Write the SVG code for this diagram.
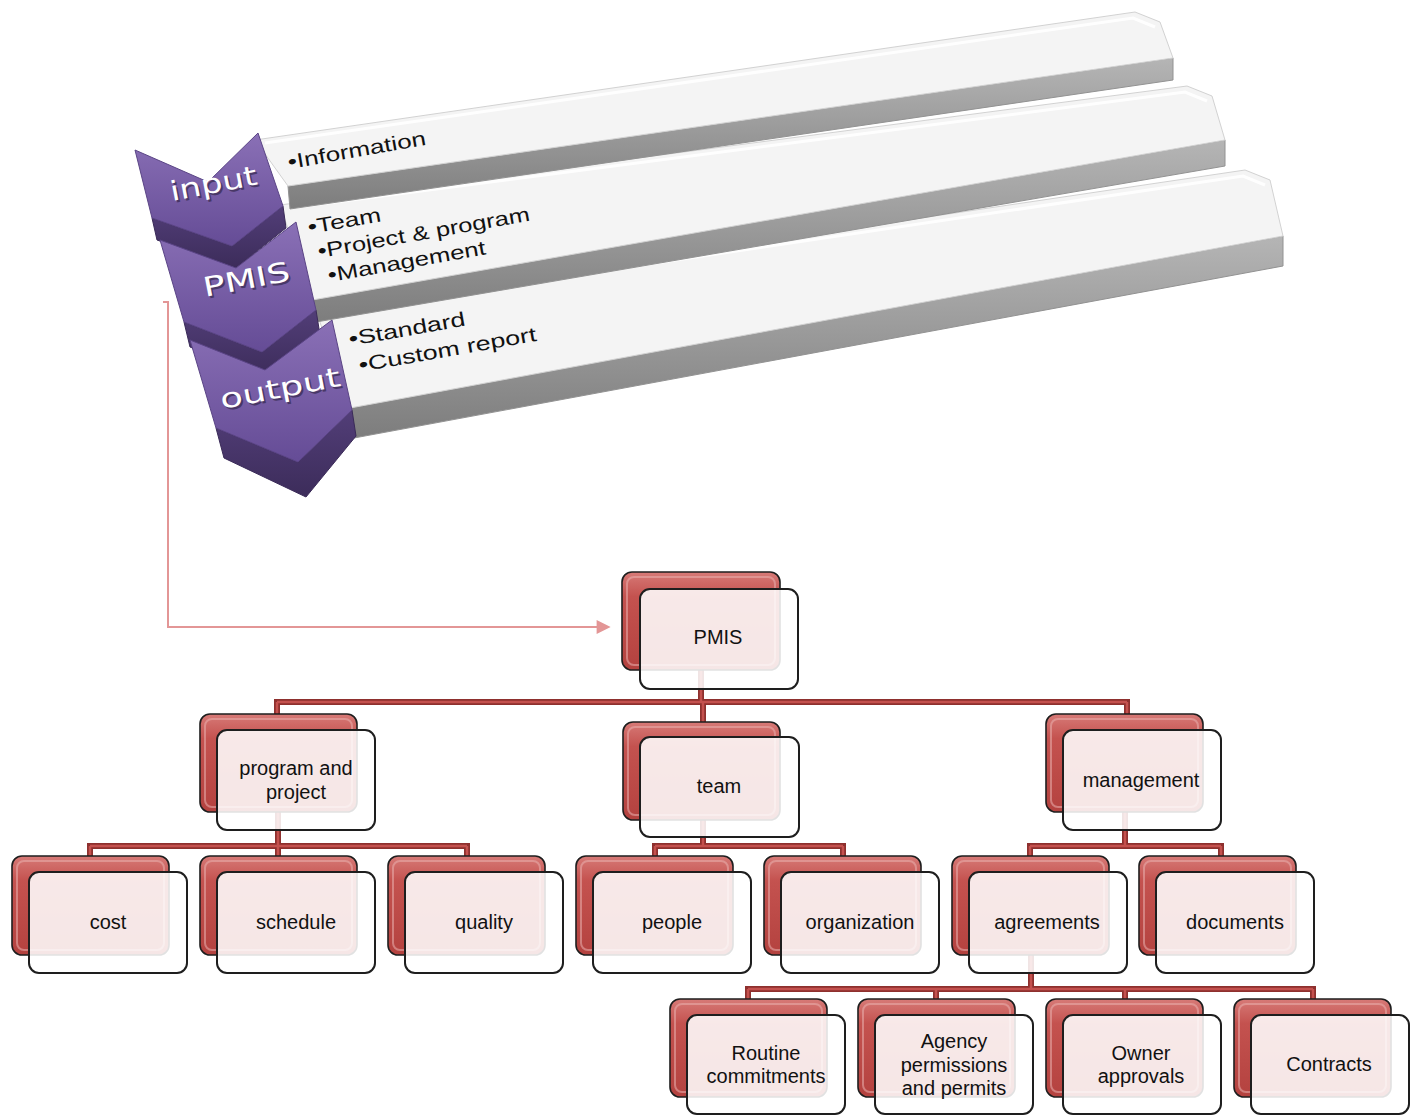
<svg xmlns="http://www.w3.org/2000/svg" width="1419" height="1116" viewBox="0 0 1419 1116">
<defs>
<linearGradient id="redGrad" x1="0" y1="0" x2="0" y2="1">
<stop offset="0" stop-color="#d77a77"/><stop offset="0.25" stop-color="#c4524f"/><stop offset="1" stop-color="#b4423f"/>
</linearGradient>
<linearGradient id="chevGrad" x1="0" y1="0" x2="0" y2="1">
<stop offset="0" stop-color="#8a70b6"/><stop offset="1" stop-color="#654c96"/>
</linearGradient>
<linearGradient id="chevDark" x1="0" y1="0" x2="0" y2="1">
<stop offset="0" stop-color="#523e78"/><stop offset="1" stop-color="#3c2c5a"/>
</linearGradient>
<linearGradient id="barFront" x1="0" y1="0" x2="0" y2="1">
<stop offset="0" stop-color="#b5b5b5"/><stop offset="1" stop-color="#7d7d7d"/>
</linearGradient>
<marker id="arr" viewBox="0 0 10 10" refX="1" refY="5" markerWidth="15" markerHeight="14" markerUnits="userSpaceOnUse" orient="auto">
<path d="M0,0 L10,5 L0,10 z" fill="#e39696"/>
</marker>
<style>
.back{fill:url(#redGrad);stroke:#1e1e1e;stroke-width:1.6}
.bevel{fill:none;stroke:#eab0ae;stroke-width:2;opacity:.55}
.front{fill:#ffffff;fill-opacity:.87;stroke:#1e1e1e;stroke-width:2}
.lbl{font-family:"Liberation Sans",Arial,sans-serif;font-size:20px;fill:#111;text-anchor:middle}
.c-out{fill:none;stroke:#8e302e;stroke-width:6;stroke-linejoin:miter}
.c-in{fill:none;stroke:#c4514e;stroke-width:2.5;stroke-linejoin:miter}
.bartop{fill:#f4f4f4;stroke:#d2d2d2;stroke-width:1;stroke-linejoin:round}
.barfront{fill:url(#barFront);stroke:#929292;stroke-width:1;stroke-linejoin:round}
.hl{fill:none;stroke:#ffffff;stroke-width:3;opacity:.9}
.btxt{font-family:"Liberation Sans",Arial,sans-serif;font-size:20px;fill:#111}
.chev{fill:url(#chevGrad);stroke:#5a4485;stroke-width:1;stroke-linejoin:round}
.chevd{fill:url(#chevDark);stroke:#3a2a58;stroke-width:1;stroke-linejoin:round}
.ctxt{font-family:"DejaVu Sans",Verdana,sans-serif;font-size:27px;fill:#ffffff}
.cshd{font-family:"DejaVu Sans",Verdana,sans-serif;font-size:27px;fill:#2a1f3d;opacity:.6}
</style>
</defs>
<rect width="1419" height="1116" fill="#ffffff"/>

<!-- 3D bars -->
<g id="bar-output">
<polygon class="barfront" points="350,408 1283,236 1283,266 354,438"/>
<polygon class="bartop" points="315,308 1245,170 1270,180 1283,236 350,408"/>
<polyline class="hl" points="325,312 1243,176 1265,185"/>
<text class="btxt" transform="translate(350,346) rotate(-10)" textLength="118" lengthAdjust="spacingAndGlyphs">•Standard</text>
<text class="btxt" transform="translate(360,372) rotate(-10)" textLength="180" lengthAdjust="spacingAndGlyphs">•Custom report</text>
</g>
<g id="bar-pmis">
<polygon class="barfront" points="312,300 1225,140 1225,166 316,322"/>
<polygon class="bartop" points="280,205 1187,86 1212,96 1225,140 312,300"/>
<polyline class="hl" points="290,208 1185,92 1207,101"/>
<text class="btxt" transform="translate(309,234) rotate(-10)" textLength="74" lengthAdjust="spacingAndGlyphs">•Team</text>
<text class="btxt" transform="translate(319,258) rotate(-10)" textLength="215" lengthAdjust="spacingAndGlyphs">•Project &amp; program</text>
<text class="btxt" transform="translate(329,282) rotate(-10)" textLength="160" lengthAdjust="spacingAndGlyphs">•Management</text>
</g>
<g id="bar-input">
<polygon class="barfront" points="288,186 1173,58 1173,80 290,209"/>
<polygon class="bartop" points="255,140 1135,12 1160,22 1173,58 288,186"/>
<polyline class="hl" points="265,143 1133,18 1155,27"/>
<text class="btxt" transform="translate(289,169) rotate(-10)" textLength="140" lengthAdjust="spacingAndGlyphs">•Information</text>
</g>

<!-- chevrons -->
<g id="chev-input">
<polygon class="chevd" points="152,218 232,246 283,206 286,228 236,268 157,240"/>
<polygon class="chev" points="135,150 208,182 258,133 283,206 232,246 152,218"/>
<text class="cshd" transform="translate(174,203) rotate(-11)" textLength="88" lengthAdjust="spacingAndGlyphs">input</text>
<text class="ctxt" transform="translate(172,201) rotate(-11)" textLength="88" lengthAdjust="spacingAndGlyphs">input</text>
</g>
<g id="chev-pmis">
<polygon class="chevd" points="184,322 262,352 316,310 320,335 268,378 190,347"/>
<polygon class="chev" points="160,240 236,268 296,222 316,310 262,352 184,322"/>
<text class="cshd" transform="translate(207,299) rotate(-11)" textLength="88" lengthAdjust="spacingAndGlyphs">PMIS</text>
<text class="ctxt" transform="translate(205,297) rotate(-11)" textLength="88" lengthAdjust="spacingAndGlyphs">PMIS</text>
</g>
<g id="chev-output">
<polygon class="chevd" points="216,428 298,462 352,410 356,436 306,497 224,458"/>
<polygon class="chev" points="190,340 265,370 332,320 352,410 298,462 216,428"/>
<text class="cshd" transform="translate(224,411) rotate(-11)" textLength="122" lengthAdjust="spacingAndGlyphs">output</text>
<text class="ctxt" transform="translate(222,409) rotate(-11)" textLength="122" lengthAdjust="spacingAndGlyphs">output</text>
</g>

<!-- connectors -->
<g id="connectors">
<path d="M163,302 H168 V627 H598" fill="none" stroke="#e39696" stroke-width="2" marker-end="url(#arr)"/>
<g class="org-lines">
<path class="c-out" d="M701,670 V702 M277,702 H1127 M277,699 V714 M703,702 V722 M1127,699 V714"/>
<path class="c-out" d="M278,812 V846 M90,846 H467 M90,843 V856 M278,846 V856 M467,843 V856"/>
<path class="c-out" d="M703,820 V846 M655,846 H843 M655,843 V856 M843,843 V856"/>
<path class="c-out" d="M1125,812 V846 M1030,846 H1221 M1030,843 V856 M1221,843 V856"/>
<path class="c-out" d="M1031,955 V989 M748,989 H1313 M748,986 V999 M936,986 V999 M1125,986 V999 M1313,986 V999"/>
<path class="c-in" d="M701,670 V702 M277,702 H1127 M277,702 V714 M703,702 V722 M1127,702 V714"/>
<path class="c-in" d="M278,812 V846 M90,846 H467 M90,846 V856 M278,846 V856 M467,846 V856"/>
<path class="c-in" d="M703,820 V846 M655,846 H843 M655,846 V856 M843,846 V856"/>
<path class="c-in" d="M1125,812 V846 M1030,846 H1221 M1030,846 V856 M1221,846 V856"/>
<path class="c-in" d="M1031,955 V989 M748,989 H1313 M748,989 V999 M936,989 V999 M1125,989 V999 M1313,989 V999"/>
</g>
</g>

<!-- org nodes -->
<g id="n-pmis">
<rect class="back" x="622" y="572" width="158" height="98" rx="10"/>
<rect class="bevel" x="627" y="577" width="148" height="88" rx="7"/>
<rect class="front" x="640" y="589" width="158" height="100" rx="10"/>
<text class="lbl" x="718" y="644">PMIS</text>
</g>
<g id="n-program">
<rect class="back" x="200" y="714" width="157" height="98" rx="10"/>
<rect class="bevel" x="205" y="719" width="147" height="88" rx="7"/>
<rect class="front" x="217" y="730" width="158" height="100" rx="10"/>
<text class="lbl" x="296" y="775">program and</text>
<text class="lbl" x="296" y="799">project</text>
</g>
<g id="n-team">
<rect class="back" x="623" y="722" width="157" height="98" rx="10"/>
<rect class="bevel" x="628" y="727" width="147" height="88" rx="7"/>
<rect class="front" x="640" y="737" width="159" height="100" rx="10"/>
<text class="lbl" x="719" y="793">team</text>
</g>
<g id="n-management">
<rect class="back" x="1046" y="714" width="157" height="98" rx="10"/>
<rect class="bevel" x="1051" y="719" width="147" height="88" rx="7"/>
<rect class="front" x="1063" y="730" width="158" height="100" rx="10"/>
<text class="lbl" x="1141" y="787">management</text>
</g>
<g id="n-cost">
<rect class="back" x="12" y="856" width="157" height="99" rx="10"/>
<rect class="bevel" x="17" y="861" width="147" height="89" rx="7"/>
<rect class="front" x="29" y="872" width="158" height="101" rx="10"/>
<text class="lbl" x="108" y="929">cost</text>
</g>
<g id="n-schedule">
<rect class="back" x="200" y="856" width="157" height="99" rx="10"/>
<rect class="bevel" x="205" y="861" width="147" height="89" rx="7"/>
<rect class="front" x="217" y="872" width="158" height="101" rx="10"/>
<text class="lbl" x="296" y="929">schedule</text>
</g>
<g id="n-quality">
<rect class="back" x="388" y="856" width="157" height="99" rx="10"/>
<rect class="bevel" x="393" y="861" width="147" height="89" rx="7"/>
<rect class="front" x="405" y="872" width="158" height="101" rx="10"/>
<text class="lbl" x="484" y="929">quality</text>
</g>
<g id="n-people">
<rect class="back" x="576" y="856" width="157" height="99" rx="10"/>
<rect class="bevel" x="581" y="861" width="147" height="89" rx="7"/>
<rect class="front" x="593" y="872" width="158" height="101" rx="10"/>
<text class="lbl" x="672" y="929">people</text>
</g>
<g id="n-organization">
<rect class="back" x="764" y="856" width="157" height="99" rx="10"/>
<rect class="bevel" x="769" y="861" width="147" height="89" rx="7"/>
<rect class="front" x="781" y="872" width="158" height="101" rx="10"/>
<text class="lbl" x="860" y="929">organization</text>
</g>
<g id="n-agreements">
<rect class="back" x="952" y="856" width="157" height="99" rx="10"/>
<rect class="bevel" x="957" y="861" width="147" height="89" rx="7"/>
<rect class="front" x="969" y="872" width="158" height="101" rx="10"/>
<text class="lbl" x="1047" y="929">agreements</text>
</g>
<g id="n-documents">
<rect class="back" x="1139" y="856" width="157" height="99" rx="10"/>
<rect class="bevel" x="1144" y="861" width="147" height="89" rx="7"/>
<rect class="front" x="1156" y="872" width="158" height="101" rx="10"/>
<text class="lbl" x="1235" y="929">documents</text>
</g>
<g id="n-routine">
<rect class="back" x="670" y="999" width="157" height="98" rx="10"/>
<rect class="bevel" x="675" y="1004" width="147" height="88" rx="7"/>
<rect class="front" x="687" y="1015" width="158" height="99" rx="10"/>
<text class="lbl" x="766" y="1060">Routine</text>
<text class="lbl" x="766" y="1083">commitments</text>
</g>
<g id="n-agency">
<rect class="back" x="858" y="999" width="157" height="98" rx="10"/>
<rect class="bevel" x="863" y="1004" width="147" height="88" rx="7"/>
<rect class="front" x="875" y="1015" width="158" height="99" rx="10"/>
<text class="lbl" x="954" y="1048">Agency</text>
<text class="lbl" x="954" y="1072">permissions</text>
<text class="lbl" x="954" y="1095">and permits</text>
</g>
<g id="n-owner">
<rect class="back" x="1046" y="999" width="157" height="98" rx="10"/>
<rect class="bevel" x="1051" y="1004" width="147" height="88" rx="7"/>
<rect class="front" x="1063" y="1015" width="158" height="99" rx="10"/>
<text class="lbl" x="1141" y="1060">Owner</text>
<text class="lbl" x="1141" y="1083">approvals</text>
</g>
<g id="n-contracts">
<rect class="back" x="1234" y="999" width="157" height="98" rx="10"/>
<rect class="bevel" x="1239" y="1004" width="147" height="88" rx="7"/>
<rect class="front" x="1251" y="1015" width="158" height="99" rx="10"/>
<text class="lbl" x="1329" y="1071">Contracts</text>
</g>
</svg>
